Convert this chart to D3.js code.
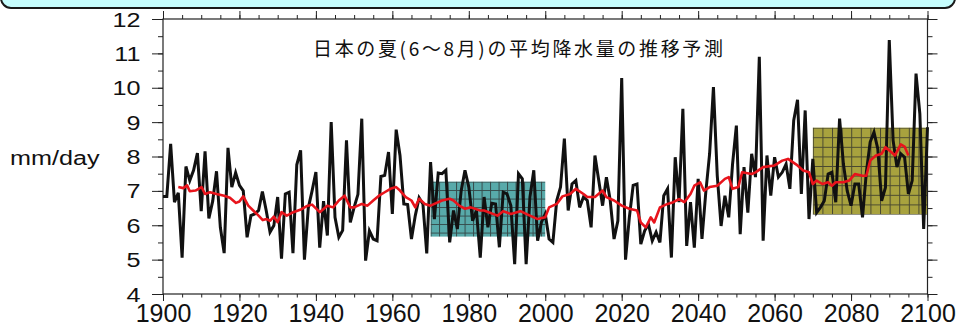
<!DOCTYPE html>
<html>
<head>
<meta charset="utf-8">
<script src="https://d3js.org/d3.v7.min.js"></script>
<style>
  body { margin: 0; background: #fff; }
  svg { display: block; }
  .axis line { stroke: #222; stroke-width: 1; }
  .axis path { display: none; }
  .axis text { font-family: "Liberation Sans", Arial, sans-serif; fill: #111; }
</style>
</head>
<body>
<div id="chart"></div>
<script>

// annual summer precipitation, 1900-2100 (mm/day)
var firstYear = 1900;
var rain = [
  6.84, 6.84, 8.37, 6.67, 6.94, 5.06, 7.71, 7.30, 7.60, 8.10,
  6.41, 8.15, 6.20, 6.70, 7.57, 5.94, 5.19, 8.25, 7.11, 7.53,
  7.16, 7.00, 5.65, 6.28, 6.33, 6.43, 6.98, 6.43, 5.80, 5.99,
  6.82, 5.03, 6.91, 6.96, 5.19, 7.76, 8.18, 5.00, 6.50, 7.00,
  7.55, 5.35, 6.70, 5.70, 9.00, 6.23, 5.65, 5.85, 8.47, 6.08,
  6.52, 6.90, 9.10, 4.97, 5.84, 5.60, 5.55, 7.42, 7.45, 8.13,
  6.33, 8.78, 8.03, 6.62, 6.60, 5.60, 6.28, 6.80, 6.62, 5.18,
  7.84, 6.18, 7.52, 7.50, 7.60, 5.50, 6.43, 5.89, 7.00, 7.60,
  7.11, 6.13, 6.43, 5.06, 6.82, 5.94, 6.64, 6.62, 5.36, 6.96,
  6.91, 6.57, 4.87, 7.50, 7.35, 4.87, 6.82, 7.60, 5.55, 6.09,
  6.33, 5.60, 5.50, 6.72, 7.11, 8.52, 6.43, 7.20, 7.30, 6.52,
  6.82, 6.72, 5.94, 8.03, 7.30, 6.57, 7.40, 6.72, 5.60, 6.13,
  10.28, 5.00, 6.23, 7.16, 7.20, 5.45, 5.84, 6.03, 5.55, 5.80,
  5.50, 6.86, 7.06, 5.06, 7.98, 6.67, 9.39, 5.40, 6.67, 5.35,
  7.35, 5.60, 6.96, 8.08, 10.02, 7.44, 5.98, 6.86, 6.23, 7.78,
  8.90, 5.74, 7.69, 6.37, 8.08, 7.40, 10.90, 5.55, 8.03, 6.86,
  7.98, 7.40, 7.54, 7.78, 7.06, 9.05, 9.65, 6.91, 9.34, 6.18,
  7.93, 6.37, 6.52, 6.71, 7.49, 7.54, 6.67, 9.10, 7.78, 7.00,
  6.57, 7.20, 7.20, 6.23, 7.54, 8.42, 8.71, 8.22, 6.71, 7.10,
  11.39, 8.47, 7.69, 8.08, 7.98, 6.91, 7.30, 10.41, 9.24, 5.89,
  8.85
];

// running mean (red)
var avgYears = [
  1904, 1905.3, 1906.3, 1907, 1908.5, 1910.1, 1911, 1912.3, 1914, 1916,
  1917.5, 1919.1, 1920, 1921, 1922.3, 1923.6, 1925, 1926.1, 1927.1, 1928,
  1929, 1930, 1931, 1932.4, 1934.1, 1935.9, 1937.5, 1939, 1941, 1943,
  1944.5, 1946, 1947.5, 1949, 1950, 1952, 1953.5, 1955, 1956.5, 1958,
  1959.5, 1961, 1962, 1963.5, 1965, 1966, 1967, 1968.5, 1970, 1971,
  1973, 1975, 1976, 1977.5, 1979, 1980.5, 1983, 1984, 1987.5, 1989,
  1991, 1993.5, 1996, 1998, 2000, 2001, 2003, 2004.5, 2006.5, 2008,
  2010, 2011, 2013, 2015, 2016, 2018, 2020, 2022, 2024, 2025,
  2026.3, 2027.6, 2028.5, 2030, 2032, 2033.5, 2035, 2036.4, 2038, 2039,
  2040.5, 2041.5, 2043, 2045, 2047, 2048, 2049, 2050.5, 2051.5, 2054,
  2055, 2057, 2060, 2062, 2063.5, 2066, 2067.5, 2069, 2070, 2071,
  2072.5, 2074, 2075, 2076, 2078, 2079.5, 2081, 2083, 2084, 2085,
  2086.5, 2088, 2089, 2090.5, 2091.5, 2093, 2094, 2095
];
var avgRain = [
  7.11, 7.08, 7.16, 6.99, 7.01, 7.11, 6.91, 6.96, 6.91, 6.86,
  6.80, 6.65, 6.69, 6.84, 6.57, 6.43, 6.28, 6.15, 6.18, 6.13,
  6.25, 6.09, 6.38, 6.28, 6.38, 6.45, 6.55, 6.60, 6.38, 6.57,
  6.52, 6.72, 6.86, 6.52, 6.52, 6.62, 6.57, 6.72, 6.86, 6.96,
  7.06, 7.11, 7.01, 6.82, 6.72, 6.52, 6.77, 6.62, 6.57, 6.62,
  6.72, 6.77, 6.72, 6.57, 6.48, 6.52, 6.43, 6.43, 6.28, 6.41,
  6.33, 6.41, 6.28, 6.18, 6.23, 6.52, 6.62, 6.84, 6.91, 7.06,
  6.91, 6.82, 6.82, 7.01, 6.82, 6.72, 6.57, 6.48, 6.43, 6.08,
  5.94, 6.23, 6.08, 6.52, 6.62, 6.67, 6.76, 6.67, 6.91, 7.15,
  7.25, 7.01, 7.11, 7.15, 7.35, 7.40, 7.06, 7.11, 7.54, 7.49,
  7.54, 7.69, 7.74, 7.88, 7.93, 7.74, 7.59, 7.54, 7.20, 7.30,
  7.20, 7.25, 7.15, 7.25, 7.25, 7.30, 7.49, 7.44, 7.44, 7.88,
  8.03, 8.08, 8.27, 8.13, 8.03, 8.35, 8.29, 8.03
];

// shaded periods: present climate and end of century
var boxFrom = [1970, 2070];
var boxTo   = [2000, 2100];
var boxLow  = [5.67, 6.31];
var boxHigh = [7.27, 8.84];

var xTicks = [1900, 1920, 1940, 1960, 1980, 2000, 2020, 2040, 2060, 2080, 2100];
var yTicks = [4, 5, 6, 7, 8, 9, 10, 11, 12];
var titleText = "日本の夏(6～8月)の平均降水量の推移予測";
var unitText = "mm/day";

var width = 960;
var height = 322;

var svg = d3.select("#chart")
  .append("svg")
    .attr("width", width)
    .attr("height", height);

var x = d3.scaleLinear()
    .domain([1900, 2100])
    .range([163, 927.5]);

var y = d3.scaleLinear()
    .domain([4, 12])
    .range([294, 19]);

// header box, mostly cut off at the top of the picture
svg.append("rect")
    .attr("x", 1)
    .attr("y", -30)
    .attr("width", 954)
    .attr("height", 38)
    .attr("rx", 10)
    .attr("fill", "#c6fdfd")
    .attr("stroke", "#1a1a1a")
    .attr("stroke-width", 2);

// grid hatched fills for the boxes
var defs = svg.append("defs");
var boxColors = ["#58aaaa", "#a8a23e"];
var boxCell = [8.5, 9.6];

boxFrom.forEach(function(d, i) {
  var p = defs.append("pattern")
      .attr("id", "grid" + i)
      .attr("patternUnits", "userSpaceOnUse")
      .attr("x", x(boxFrom[i]))
      .attr("y", y(boxHigh[i]))
      .attr("width", boxCell[i])
      .attr("height", boxCell[i]);
  p.append("rect")
      .attr("width", boxCell[i])
      .attr("height", boxCell[i])
      .attr("fill", boxColors[i]);
  p.append("path")
      .attr("d", "M0,0.5H" + boxCell[i] + "M0.5,0V" + boxCell[i])
      .attr("stroke", "#2a2a2a")
      .attr("stroke-opacity", 0.75)
      .attr("stroke-width", 1);
});

svg.append("g")
    .attr("class", "boxes")
  .selectAll("rect")
    .data(boxFrom)
    .enter()
    .append("rect")
    .attr("x", function(d, i) { return x(boxFrom[i]); })
    .attr("y", function(d, i) { return y(boxHigh[i]); })
    .attr("width", function(d, i) { return x(boxTo[i]) - x(boxFrom[i]); })
    .attr("height", function(d, i) { return y(boxLow[i]) - y(boxHigh[i]); })
    .attr("fill", function(d, i) { return "url(#grid" + i + ")"; });

// axes: majors and minors, ticks pointing out on all four sides
var minorX = d3.range(1900, 2101, 5);
var minorY = d3.range(4, 12.01, 0.5);

svg.append("g").attr("class", "axis")
    .attr("transform", "translate(0,294)")
    .call(d3.axisBottom(x).tickValues(minorX).tickSize(3.5).tickFormat(""));
svg.append("g").attr("class", "axis")
    .attr("transform", "translate(0,294)")
    .call(d3.axisBottom(x).tickValues(xTicks).tickSize(7).tickPadding(3).tickFormat(d3.format("d")))
  .selectAll("text")
    .style("font-size", "25px");

svg.append("g").attr("class", "axis")
    .attr("transform", "translate(0,19)")
    .call(d3.axisTop(x).tickValues(minorX).tickSize(4).tickFormat(""));
svg.append("g").attr("class", "axis")
    .attr("transform", "translate(0,19)")
    .call(d3.axisTop(x).tickValues(xTicks).tickSize(8).tickFormat(""));

svg.append("g").attr("class", "axis")
    .attr("transform", "translate(163,0)")
    .call(d3.axisLeft(y).tickValues(minorY).tickSize(5).tickFormat(""));
svg.append("g").attr("class", "axis")
    .attr("transform", "translate(163,0)")
    .call(d3.axisLeft(y).tickValues(yTicks).tickSize(11).tickFormat(""));

svg.append("g").attr("class", "axis")
    .attr("transform", "translate(927.5,0)")
    .call(d3.axisRight(y).tickValues(minorY).tickSize(5).tickFormat(""));
svg.append("g").attr("class", "axis")
    .attr("transform", "translate(927.5,0)")
    .call(d3.axisRight(y).tickValues(yTicks).tickSize(10).tickFormat(""));

// frame
svg.append("rect")
    .attr("x", x(1900))
    .attr("y", y(12))
    .attr("width", x(2100) - x(1900))
    .attr("height", y(4) - y(12))
    .attr("fill", "none")
    .attr("stroke", "#222")
    .attr("stroke-width", 1.2);

// y labels, the font in the original is drawn a bit wide
svg.append("g")
  .selectAll("text")
    .data(yTicks)
    .enter()
    .append("text")
    .attr("transform", function(d) { return "translate(140.5," + y(d) + ") scale(1.2,1)"; })
    .attr("dy", "0.36em")
    .attr("text-anchor", "end")
    .style("font-family", "'Liberation Sans', Arial, sans-serif")
    .style("font-size", "21px")
    .attr("fill", "#111")
    .text(function(d) { return d; });

svg.append("text")
    .attr("transform", "translate(10,164.5) scale(1.2,1)")
    .style("font-family", "'Liberation Sans', Arial, sans-serif")
    .style("font-size", "21px")
    .attr("fill", "#111")
    .text(unitText);

// lines
var line = d3.line()
    .x(function(d) { return x(d[0]); })
    .y(function(d) { return y(d[1]); });

var annual = rain.map(function(v, i) { return [firstYear + i, v]; });
var running = avgYears.map(function(yr, i) { return [yr, avgRain[i]]; });

svg.append("path")
    .datum(annual)
    .attr("fill", "none")
    .attr("stroke", "#111")
    .attr("stroke-width", 3)
    .attr("stroke-linejoin", "miter")
    .attr("d", line);

svg.append("path")
    .datum(running)
    .attr("fill", "none")
    .attr("stroke", "#e8141c")
    .attr("stroke-width", 2.6)
    .attr("stroke-linejoin", "round")
    .attr("d", line);

// title
svg.append("text")
    .attr("x", 313)
    .attr("y", 56)
    .attr("textLength", 410)
    .attr("lengthAdjust", "spacing")
    .style("font-family", "'Noto Sans CJK JP', sans-serif")
    .style("font-size", "19px")
    .attr("fill", "#111")
    .text(titleText);

</script>
</body>
</html>
